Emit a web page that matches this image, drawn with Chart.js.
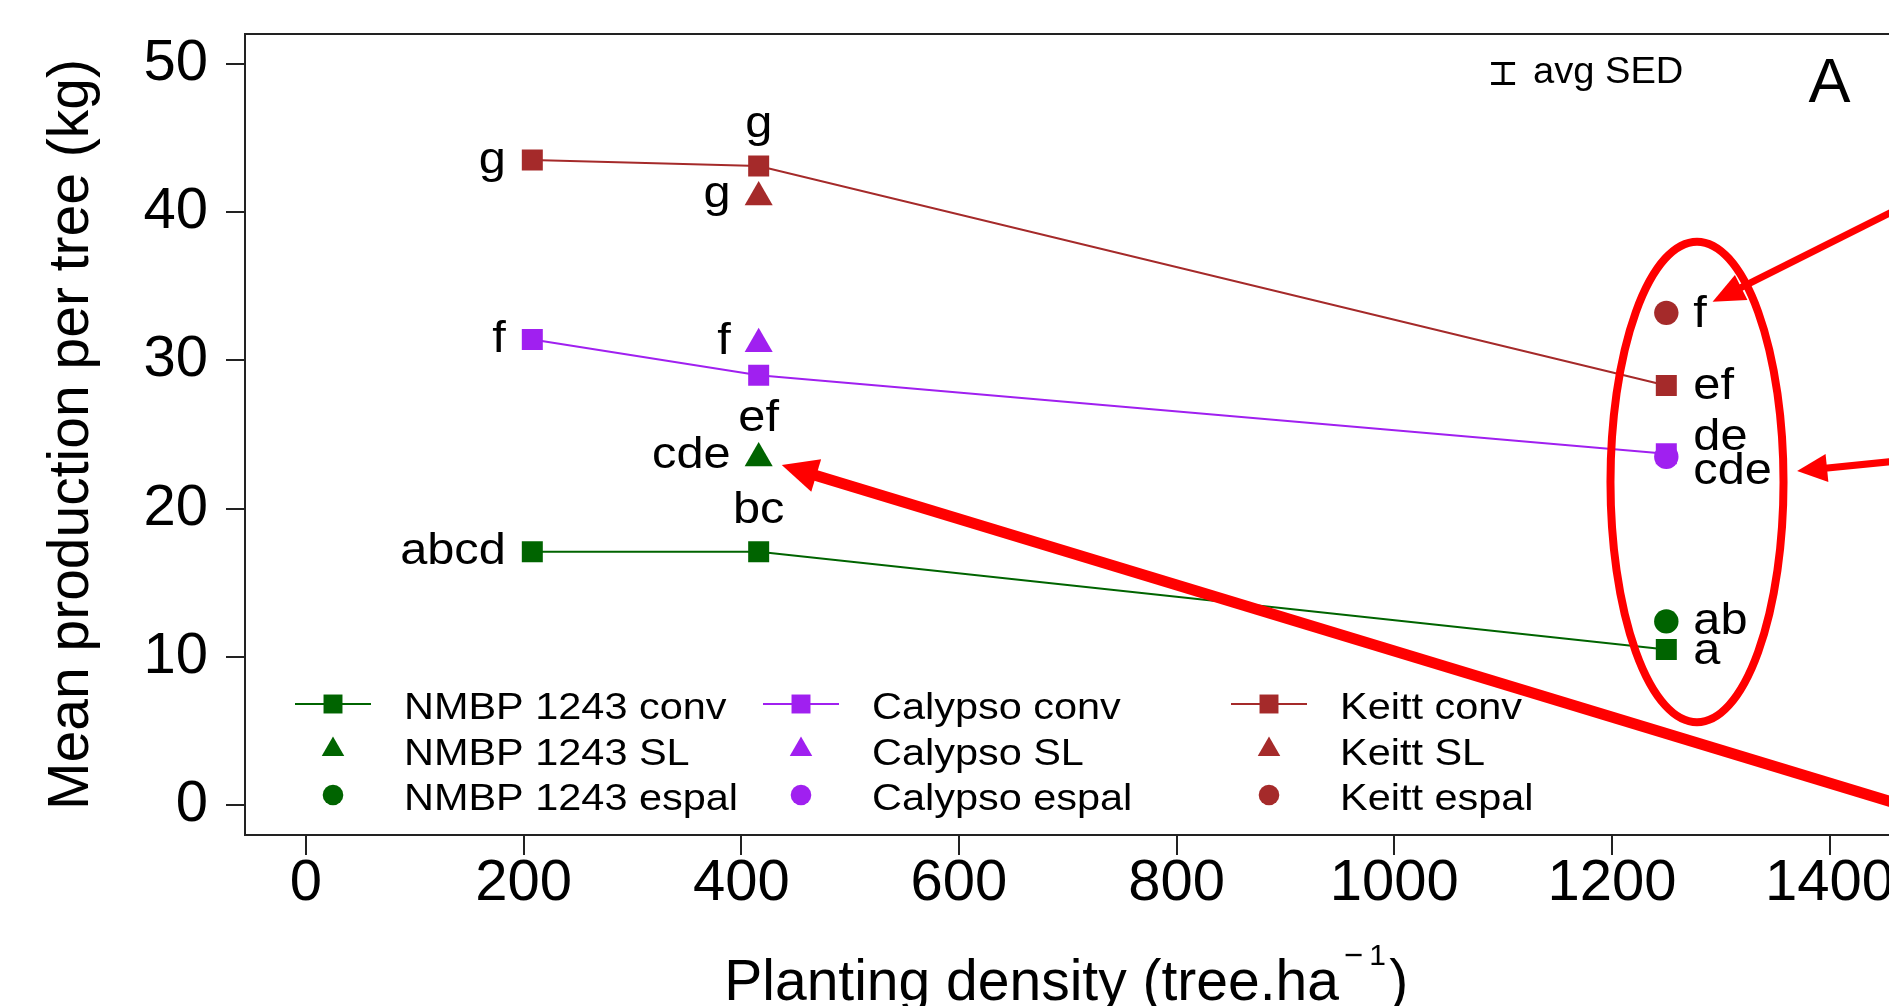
<!DOCTYPE html>
<html>
<head>
<meta charset="utf-8">
<script src="https://cdn.jsdelivr.net/npm/chart.js@4.4.1/dist/chart.umd.min.js"></script>
<style>
html, body { margin:0; padding:0; background:#ffffff; overflow:hidden; }
#wrap { position:absolute; left:0; top:0; width:1896px; height:1006px; }
canvas { display:block; }
</style>
</head>
<body>
<div id="wrap"><canvas id="chart" width="1896" height="1006"></canvas></div>
<script>
// ---------------- data ----------------
const densities = [208, 416, 1250];
const xTicks = [0, 200, 400, 600, 800, 1000, 1200, 1400];
const yTicks = [0, 10, 20, 30, 40, 50];

const nmbpConv     = [17.1, 17.1, 10.5];
const nmbpSL       = [null, 23.4, null];
const nmbpEspal    = [null, null, 12.4];
const calypsoConv  = [31.4, 29.0, 23.7];
const calypsoSL    = [null, 31.1, null];
const calypsoEspal = [null, null, 23.5];
const keittConv    = [43.5, 43.1, 28.3];
const keittSL      = [null, 41.0, null];
const keittEspal   = [null, null, 33.2];

const nmbpConvLetters     = ['abcd', 'bc', 'a'];
const nmbpSLLetters       = [null, 'cde', null];
const nmbpEspalLetters    = [null, null, 'ab'];
const calypsoConvLetters  = ['f', 'ef', 'de'];
const calypsoSLLetters    = [null, 'f', null];
const calypsoEspalLetters = [null, null, 'cde'];
const keittConvLetters    = ['g', 'g', 'ef'];
const keittSLLetters      = [null, 'g', null];
const keittEspalLetters   = [null, null, 'f'];

const seriesLabels = ['NMBP 1243 conv', 'NMBP 1243 SL', 'NMBP 1243 espal',
                      'Calypso conv', 'Calypso SL', 'Calypso espal',
                      'Keitt conv', 'Keitt SL', 'Keitt espal'];
const avgSED = 1.35;

// ---------------- styles ----------------
const GREEN = '#006400', PURPLE = '#A020F0', BROWN = '#A52A2A';
const FONT = "'Liberation Sans', Arial, Helvetica, sans-serif";
const TXT_SCALE = 1.12;

// label placement (pixel offsets from the point, baseline-anchored)
const L208 = {align:'right', dx:-26.5, dy:12.5};
const L416 = {align:'right', dx:-28, dy:10};
const ABOVE = {align:'center', dx:0, dy:-29};
const BELOW = {align:'center', dx:0, dy:56};
const R = (dy) => ({align:'left', dx:27, dy:dy});
const placements = [
  [L208, ABOVE, R(14)],          // NMBP conv
  [null, L416, null],            // NMBP SL
  [null, null, R(13)],           // NMBP espal
  [L208, BELOW, R(-3.5)],        // Calypso conv
  [null, L416, null],            // Calypso SL
  [null, null, R(27)],           // Calypso espal
  [L208, ABOVE, R(13)],          // Keitt conv
  [null, L416, null],            // Keitt SL
  [null, null, R(14)]            // Keitt espal
];

const values = [nmbpConv, nmbpSL, nmbpEspal, calypsoConv, calypsoSL, calypsoEspal, keittConv, keittSL, keittEspal];
const letters = [nmbpConvLetters, nmbpSLLetters, nmbpEspalLetters, calypsoConvLetters, calypsoSLLetters,
                 calypsoEspalLetters, keittConvLetters, keittSLLetters, keittEspalLetters];
const colors = [GREEN, GREEN, GREEN, PURPLE, PURPLE, PURPLE, BROWN, BROWN, BROWN];
const kinds = ['conv', 'SL', 'espal', 'conv', 'SL', 'espal', 'conv', 'SL', 'espal'];
const styleOf = {conv: {ps:'rect', r:14.85}, SL: {ps:'triangle', r:16.2}, espal: {ps:'circle', r:12.2}};

const datasets = values.map((arr, i) => {
  const pts = [];
  arr.forEach((v, j) => { if (v !== null) pts.push({x: densities[j], y: v, letter: letters[i][j], place: placements[i][j]}); });
  const st = styleOf[kinds[i]];
  return {
    label: seriesLabels[i],
    data: pts,
    showLine: kinds[i] === 'conv',
    borderColor: colors[i],
    backgroundColor: colors[i],
    borderWidth: 2,
    pointStyle: st.ps,
    pointRadius: st.r,
    pointBorderWidth: 0,
    pointBackgroundColor: colors[i],
    pointBorderColor: colors[i],
    tension: 0
  };
});

function scaledText(ctx, text, x, y, align, size, sx) {
  ctx.save();
  ctx.font = size + 'px ' + FONT;
  ctx.textAlign = align;
  ctx.textBaseline = 'alphabetic';
  ctx.translate(x, y);
  ctx.scale(sx, 1);
  ctx.fillText(text, 0, 0);
  ctx.restore();
}

function drawMarker(ctx, kind, x, y, color, r) {
  ctx.save();
  ctx.fillStyle = color;
  ctx.beginPath();
  if (kind === 'conv') {
    const h = r * Math.SQRT1_2;
    ctx.rect(x - h, y - h, 2 * h, 2 * h);
  } else if (kind === 'SL') {
    ctx.moveTo(x, y - r);
    ctx.lineTo(x + r * Math.sin(2 * Math.PI / 3), y + r / 2);
    ctx.lineTo(x - r * Math.sin(2 * Math.PI / 3), y + r / 2);
    ctx.closePath();
  } else {
    ctx.arc(x, y, r, 0, Math.PI * 2);
  }
  ctx.fill();
  ctx.restore();
}

function arrow(ctx, x1, y1, x2, y2, w, headLen, headHalf) {
  const a = Math.atan2(y2 - y1, x2 - x1);
  const bx = x2 - headLen * Math.cos(a), by = y2 - headLen * Math.sin(a);
  ctx.lineWidth = w;
  ctx.beginPath(); ctx.moveTo(x1, y1); ctx.lineTo(bx + 2 * Math.cos(a), by + 2 * Math.sin(a)); ctx.stroke();
  ctx.beginPath();
  ctx.moveTo(x2, y2);
  ctx.lineTo(bx + headHalf * Math.sin(a), by - headHalf * Math.cos(a));
  ctx.lineTo(bx - headHalf * Math.sin(a), by + headHalf * Math.cos(a));
  ctx.closePath(); ctx.fill();
}

const decor = {
  id: 'decor',
  afterDatasetsDraw(chart) {
    const ctx = chart.ctx, xs = chart.scales.x, ys = chart.scales.y, ca = chart.chartArea;
    // frame
    ctx.save();
    ctx.strokeStyle = '#222'; ctx.lineWidth = 2;
    ctx.strokeRect(ca.left, ca.top, ca.right - ca.left, ca.bottom - ca.top);
    ctx.restore();

    // significance letters
    ctx.save(); ctx.fillStyle = '#000';
    chart.data.datasets.forEach(ds => {
      ds.data.forEach(p => {
        if (!p.letter) return;
        const px = xs.getPixelForValue(p.x), py = ys.getPixelForValue(p.y);
        scaledText(ctx, p.letter, px + p.place.dx, py + p.place.dy, p.place.align, 43.5, TXT_SCALE);
      });
    });
    ctx.restore();

    // avg SED bar
    ctx.save();
    ctx.strokeStyle = '#000'; ctx.lineWidth = 3;
    const sx = xs.getPixelForValue(1100);
    const yTop = ys.getPixelForValue(49.34 + avgSED / 2), yBot = ys.getPixelForValue(49.34 - avgSED / 2);
    ctx.beginPath();
    ctx.moveTo(sx, yTop); ctx.lineTo(sx, yBot);
    ctx.moveTo(sx - 12, yTop); ctx.lineTo(sx + 12, yTop);
    ctx.moveTo(sx - 12, yBot); ctx.lineTo(sx + 12, yBot);
    ctx.stroke();
    ctx.fillStyle = '#000';
    scaledText(ctx, 'avg SED', 1533, 83, 'left', 37, 1.03);
    scaledText(ctx, 'A', 1808.5, 102, 'left', 63, 1);
    ctx.restore();

    // legend (3 columns)
    const colX = [295, 763, 1231];
    const rowY = [704, 749.5, 795];
    const legR = {conv: 13.4, SL: 13, espal: 10.3};
    chart.data.datasets.forEach((ds, i) => {
      const c = Math.floor(i / 3), r = i % 3;
      const x0 = colX[c], y0 = rowY[r];
      if (kinds[i] === 'conv') {
        ctx.save(); ctx.strokeStyle = ds.borderColor; ctx.lineWidth = 2;
        ctx.beginPath(); ctx.moveTo(x0, y0); ctx.lineTo(x0 + 76, y0); ctx.stroke(); ctx.restore();
      }
      drawMarker(ctx, kinds[i], x0 + 38, y0, ds.backgroundColor, legR[kinds[i]]);
      ctx.fillStyle = '#000';
      scaledText(ctx, ds.label, x0 + 109, y0 + 15, 'left', 37, TXT_SCALE);
    });

    // x-axis title with superscript
    ctx.save(); ctx.fillStyle = '#000'; ctx.textBaseline = 'alphabetic'; ctx.textAlign = 'left';
    const cxT = (ca.left + ca.right) / 2;
    const tx = cxT - 343.5;
    ctx.font = '57px ' + FONT; ctx.fillText('Planting density (tree.ha', tx, 1000);
    ctx.font = '33px ' + FONT;
    ctx.fillText('\u2212', tx + 619.5, 966);
    ctx.font = '30px ' + FONT;
    ctx.fillText('1', tx + 645, 965);
    ctx.font = '57px ' + FONT; ctx.fillText(')', tx + 665, 1000);
    ctx.restore();
  },
  afterDraw(chart) {
    const ctx = chart.ctx, xs = chart.scales.x, ys = chart.scales.y;
    const X = v => xs.getPixelForValue(v), Y = v => ys.getPixelForValue(v);
    ctx.save();
    ctx.strokeStyle = '#FF0000'; ctx.fillStyle = '#FF0000'; ctx.lineCap = 'butt';
    // ellipse around the high-density points
    const cx = X(1278.2), cy = Y(21.8);
    const rx = X(1278.2 + 79.5) - cx, ry = Y(21.8) - Y(21.8 + 16.2);
    ctx.lineWidth = 8;
    ctx.beginPath(); ctx.ellipse(cx, cy, rx, ry, 0, 0, Math.PI * 2); ctx.stroke();
    // arrows
    arrow(ctx, X(1547.5), Y(43.32), X(1292.5), Y(33.95), 7, 32, 14);
    arrow(ctx, X(1547.5), Y(23.84), X(1370.2), Y(22.54), 7, 30, 14);
    arrow(ctx, X(1547.5), Y(-1.78), X(437.2), Y(22.94), 11, 36, 17);
    ctx.restore();
  }
};

Chart.defaults.font.family = FONT;
Chart.defaults.color = '#000';

new Chart(document.getElementById('chart'), {
  type: 'scatter',
  data: { datasets: datasets },
  options: {
    responsive: false,
    devicePixelRatio: 1,
    animation: false,
    layout: { autoPadding: false, padding: { left: 0, top: 34, right: 5.5, bottom: 0 } },
    plugins: { legend: { display: false }, tooltip: { enabled: false } },
    scales: {
      x: {
        type: 'linear', min: -56, max: 1456,
        afterBuildTicks: s => { s.ticks = xTicks.map(v => ({value: v})); },
        afterFit: s => { s.height = 171; s.paddingLeft = 0; s.paddingRight = 0; },
        border: { display: false },
        grid: { drawOnChartArea: false, drawTicks: true, tickLength: 20, tickWidth: 2, tickColor: '#222', color: '#222', lineWidth: 2 },
        ticks: { color: '#000', padding: 0, maxRotation: 0, autoSkip: false, font: { size: 58, lineHeight: 1 }, callback: v => String(v) }
      },
      y: {
        type: 'linear', min: -2, max: 52,
        afterBuildTicks: s => { s.ticks = yTicks.map(v => ({value: v})); },
        afterFit: s => { s.width = 245; s.paddingTop = 0; s.paddingBottom = 0; },
        border: { display: false },
        grid: { drawOnChartArea: false, drawTicks: true, tickLength: 19, tickWidth: 2, tickColor: '#222', color: '#222', lineWidth: 2 },
        ticks: { color: '#000', padding: 18, autoSkip: false, font: { size: 58, lineHeight: 1 }, callback: v => String(v) },
        title: { display: true, text: 'Mean production per tree (kg)', color: '#000', font: { size: 57 }, padding: { top: 38, bottom: 0 } }
      }
    }
  },
  plugins: [decor]
});
</script>
</body>
</html>
